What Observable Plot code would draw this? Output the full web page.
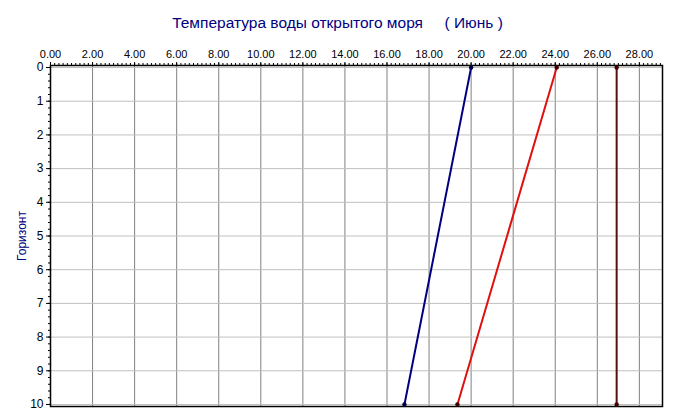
<!DOCTYPE html>
<html>
<head>
<meta charset="utf-8">
<script src="https://cdn.jsdelivr.net/npm/d3@7"></script>
<script src="https://cdn.jsdelivr.net/npm/@observablehq/plot@0.6"></script>
<style>
  html, body { margin: 0; padding: 0; background: #fff; }
  #chart { width: 675px; height: 419px; }
</style>
</head>
<body>
<div id="chart"></div>
<script>
const titleText = "Температура воды открытого моря     ( Июнь )";
const yLabel = "Горизонт";
const depths = [0, 10];
const seriesNames = ["s1", "s2", "s3"];
const seriesColors = ["#000080", "#e01010", "#5a0f0f"];
const s1 = [20.0, 16.83];
const s2 = [24.07, 19.35];
const s3 = [26.92, 26.92];
const xMajorTicks = d3.range(0, 28.01, 2);
const xMinorTicks = d3.range(0, 29.11, 0.2);
const yMajorTicks = d3.range(0, 10.01, 1);
const yMinorTicks = d3.range(0, 10.01, 0.2);

const allSeries = [s1, s2, s3];
const data = [];
allSeries.forEach((vals, i) => {
  vals.forEach((v, j) => data.push({series: seriesNames[i], temp: v, depth: depths[j]}));
});

const font = "'Liberation Sans', Arial, sans-serif";

const chart = Plot.plot({
  width: 675,
  height: 419,
  marginLeft: 50,
  marginRight: 13,
  marginTop: 65,
  marginBottom: 13,
  style: {fontFamily: font, fontSize: "11px", color: "#000", background: "#fff", overflow: "visible"},
  x: {domain: [0, 29.1], axis: null, label: null},
  y: {domain: [-0.06, 10.06], reverse: true, axis: null, label: null},
  color: {domain: seriesNames, range: seriesColors},
  marks: [
    Plot.gridX(xMajorTicks.slice(1), {stroke: "#808080", strokeOpacity: 1, strokeWidth: 1}),
    Plot.gridY(yMajorTicks, {stroke: "#c0c0c0", strokeOpacity: 1, strokeWidth: 1}),
    Plot.frame({stroke: "#000", strokeWidth: 1.5}),
    Plot.axisX({anchor: "top", label: null, ticks: xMinorTicks, tickSize: 3, tickFormat: () => "", stroke: "#000"}),
    Plot.axisX({anchor: "top", label: null, ticks: xMajorTicks, tickSize: 4, tickPadding: 4, tickFormat: d3.format(".2f"), fill: "#000", fontSize: 11}),
    Plot.axisY({anchor: "left", label: null, ticks: yMinorTicks, tickSize: 2, tickFormat: () => "", stroke: "#000"}),
    Plot.axisY({anchor: "left", label: null, ticks: yMajorTicks, tickSize: 4, tickPadding: 3, tickFormat: d3.format("d"), fill: "#000", fontSize: 12}),
    Plot.line(data, {x: "temp", y: "depth", z: "series", stroke: "series", strokeWidth: 2}),
    Plot.dot(data, {x: "temp", y: "depth", fill: d => d.series === "s1" ? "#000040" : "#400000", r: 2.2, stroke: null}),
    Plot.text([titleText], {frameAnchor: "top", dy: -49, dx: -19, fontSize: 15.5, fill: "#000080", text: d => d, fontFamily: font}),
    Plot.text([yLabel], {frameAnchor: "left", textAnchor: "middle", dx: -28, rotate: -90, fontSize: 12, fill: "#000080", text: d => d, fontFamily: font})
  ]
});
document.getElementById("chart").appendChild(chart);
</script>
</body>
</html>
